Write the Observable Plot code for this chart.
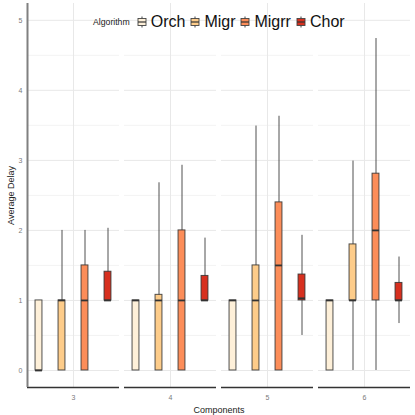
<!DOCTYPE html>
<html>
<head>
<meta charset="utf-8">
<script src="https://cdn.jsdelivr.net/npm/d3@7"></script>
<script src="https://cdn.jsdelivr.net/npm/@observablehq/plot@0.6"></script>
<style>
  html, body { margin: 0; padding: 0; background: #fff; }
  #wrap { position: relative; width: 415px; height: 415px; font-family: "Liberation Sans", Arial, sans-serif; }
  #legend { position: absolute; top: 13px; left: 93px; display: flex; align-items: center; white-space: nowrap; }
  #legend .title { font-size: 8.7px; color: #222; margin-right: 7px; }
  #legend .item { display: flex; align-items: center; margin-right: 5px; }
  #legend .item svg { margin-right: 4px; }
  #legend .lab { font-size: 16px; color: #111; }
  svg [aria-label="y-axis tick label"] text, svg [aria-label="fx-axis tick label"] text { fill: #7a7a7a; font-size: 7px; }
  svg [aria-label="y-axis label"] text, svg [aria-label="fx-axis label"] text { fill: #222; font-size: 9px; }
</style>
</head>
<body>
<div id="wrap"><div id="legend"></div></div>
<script>
const components = [3, 4, 5, 6];
const algorithms = ["Orch", "Migr", "Migrr", "Chor"];
const colors = ["#fef0d9", "#fdcc8a", "#fc8d59", "#d7301f"];
// per component (3,4,5,6), per algorithm (Orch, Migr, Migrr, Chor)
const mins    = [0, 0, 0, 1,     0, 0, 0, 1,     0, 0, 0, 0.5,   0, 0, 0, 0.67];
const q1s     = [0, 0, 0, 1,     0, 0, 0, 1,     0, 0, 0, 1,     0, 1, 1, 1];
const medians = [0, 1, 1, 1,     1, 1, 1, 1,     1, 1, 1.5, 1.03, 1, 1, 2, 1];
const q3s     = [1, 1, 1.5, 1.41, 1, 1.08, 2, 1.35, 1, 1.5, 2.4, 1.37, 1, 1.8, 2.81, 1.25];
const maxs    = [1, 2, 2, 2.03,  1, 2.68, 2.93, 1.89, 1, 3.49, 3.63, 1.93, 1, 2.99, 4.74, 1.62];
const yTicks = [0, 1, 2, 3, 4, 5];
const yMinor = [0.5, 1.5, 2.5, 3.5, 4.5];

const table = [];
components.forEach((c, i) => algorithms.forEach((a, j) => {
  const k = i * algorithms.length + j;
  table.push({comp: c, alg: a, idx: j, min: mins[k], q1: q1s[k], med: medians[k], q3: q3s[k], max: maxs[k]});
}));

const yLo = -0.243;
const half = 0.15;

const chart = Plot.plot({
  width: 415,
  height: 415,
  marginLeft: 26,
  marginRight: 4,
  marginTop: 3,
  marginBottom: 28,
  style: {fontFamily: "Liberation Sans, Arial, sans-serif", fontSize: "7px", background: "white"},
  fx: {domain: components, paddingInner: 0.051, paddingOuter: 0, axis: "bottom", tickSize: 0, tickPadding: 8, label: "Components", labelAnchor: "center", labelOffset: 25},
  x: {domain: [0, algorithms.length], axis: null},
  y: {domain: [yLo, 5.24], ticks: yTicks, tickSize: 0, tickPadding: 5, tickFormat: d => String(d), label: "Average Delay", labelAnchor: "center", labelArrow: "none", labelOffset: 20},
  color: {domain: algorithms, range: colors},
  marks: [
    Plot.ruleY(yMinor, {stroke: "#eeeeee", strokeWidth: 0.7}),
    Plot.ruleY(yTicks, {stroke: "#e8e8e8", strokeWidth: 1}),
    Plot.ruleX([algorithms.length / 2], {stroke: "#e8e8e8", strokeWidth: 1}),
    Plot.ruleX(table, {fx: "comp", x: d => d.idx + 0.5, y1: "min", y2: "max", stroke: "#333", strokeWidth: 1, strokeOpacity: 0.85}),
    Plot.rectY(table, {fx: "comp", x1: d => d.idx + 0.5 - half, x2: d => d.idx + 0.5 + half, y1: "q1", y2: "q3", fill: "alg", stroke: "#333", strokeWidth: 1, strokeOpacity: 0.85}),
    Plot.ruleY(table, {fx: "comp", x1: d => d.idx + 0.5 - half, x2: d => d.idx + 0.5 + half, y: "med", stroke: "#333", strokeWidth: 1.8}),
    Plot.ruleY([yLo], {stroke: "#333", strokeWidth: 1.5}),
    Plot.ruleX([0], {fx: [components[0]], stroke: "#808080", strokeWidth: 2})
  ]
});
document.getElementById("wrap").prepend(chart);

// legend
const leg = document.getElementById("legend");
const t = document.createElement("span");
t.className = "title"; t.textContent = "Algorithm";
leg.appendChild(t);
algorithms.forEach((a, i) => {
  const item = document.createElement("span");
  item.className = "item";
  const ns = "http://www.w3.org/2000/svg";
  const s = document.createElementNS(ns, "svg");
  s.setAttribute("width", 10); s.setAttribute("height", 12);
  s.innerHTML = `<line x1="5" x2="5" y1="0.5" y2="11.5" stroke="#444" stroke-width="1"/>
    <rect x="1" y="2.5" width="8" height="7" fill="${colors[i]}" stroke="#444" stroke-width="0.9"/>
    <line x1="1" x2="9" y1="6" y2="6" stroke="#333" stroke-width="1.2"/>`;
  item.appendChild(s);
  const l = document.createElement("span");
  l.className = "lab"; l.textContent = a;
  item.appendChild(l);
  leg.appendChild(item);
});
</script>
</body>
</html>
